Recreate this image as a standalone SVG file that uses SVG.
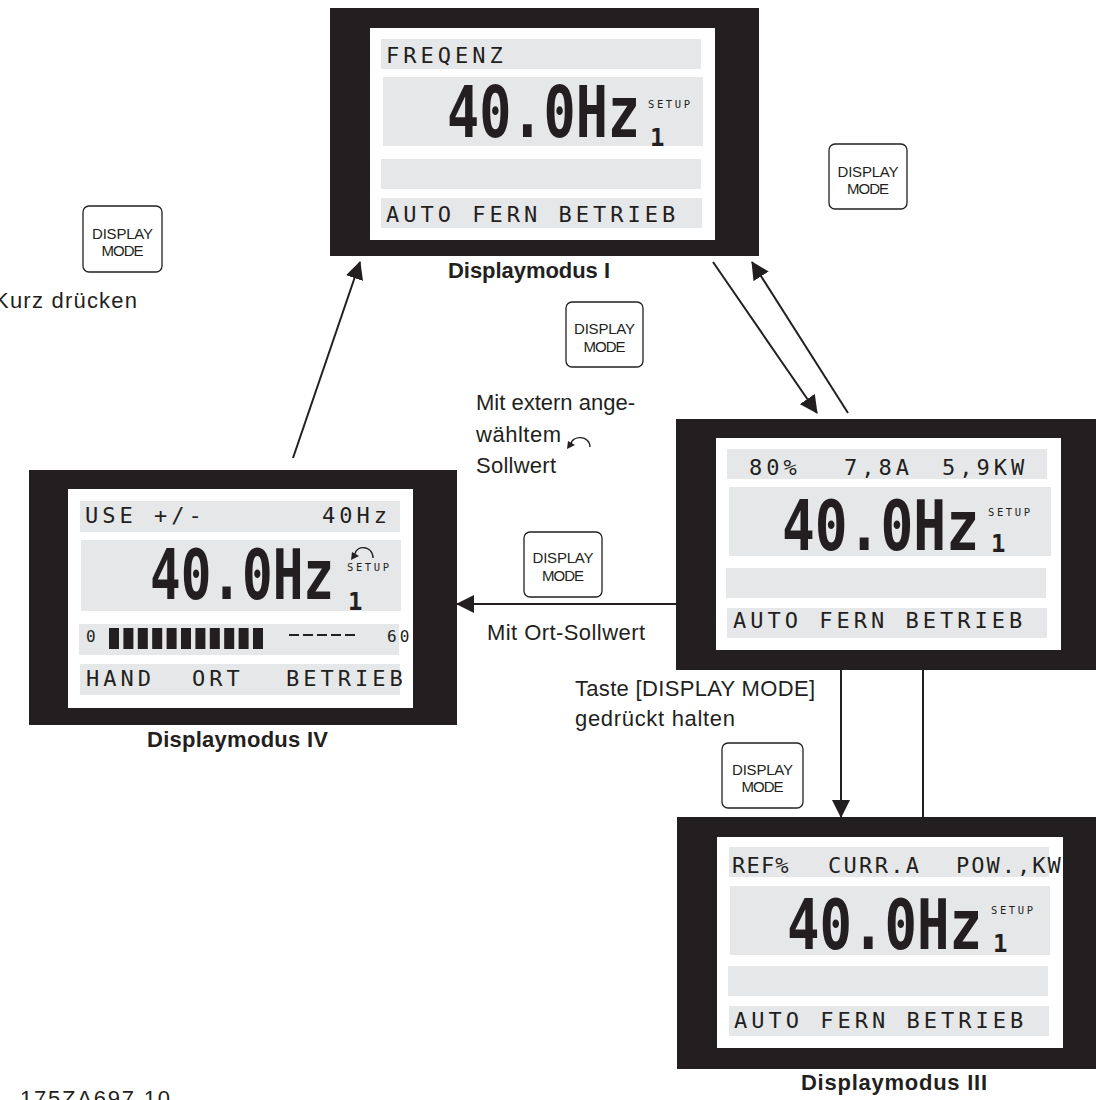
<svg xmlns="http://www.w3.org/2000/svg" width="1096" height="1100" viewBox="0 0 1096 1100">
<defs>
<style>
.frame{fill:#231f20}
.screen{fill:#ffffff}
.row{fill:#e6e7e8}
.lcd{font-family:"DejaVu Sans Mono",monospace;font-size:22px;fill:#231f20;letter-spacing:4px;white-space:pre}
.big{font-family:"DejaVu Sans Mono",monospace;font-weight:bold;font-size:70px;fill:#231f20}
.setup{font-family:"DejaVu Sans Mono",monospace;font-size:10.5px;fill:#231f20;letter-spacing:2.6px}
.one{font-family:"DejaVu Sans Mono",monospace;font-weight:bold;font-size:24px;fill:#231f20}
.small{font-family:"DejaVu Sans Mono",monospace;font-size:16px;fill:#231f20;letter-spacing:3px}
.lbl{font-family:"Liberation Sans",Arial,sans-serif;font-size:22px;fill:#231f20}
.title{font-family:"Liberation Sans",Arial,sans-serif;font-size:22px;font-weight:bold;fill:#231f20}
.btn{fill:#ffffff;stroke:#231f20;stroke-width:1.3}
.btxt{font-family:"Liberation Sans",Arial,sans-serif;font-size:15px;fill:#231f20;text-anchor:middle}
.conn{stroke:#231f20;stroke-width:2;fill:none}
.sym{stroke:#231f20;stroke-width:1.4;fill:none}
</style>
<marker id="arr" markerUnits="userSpaceOnUse" markerWidth="18" markerHeight="18" viewBox="0 0 18 18" refX="17" refY="9" orient="auto">
<path d="M0,0 L18,9 L0,18 z" fill="#231f20"/>
</marker>
</defs>
<rect width="1096" height="1100" fill="#ffffff"/>

<g id="node-mode1">
<rect class="frame" x="330" y="8" width="429" height="248"/>
<rect class="screen" x="370" y="28" width="345" height="212"/>
<rect class="row" x="381" y="39" width="320" height="30"/>
<rect class="row" x="383" y="77" width="320" height="69"/>
<rect class="row" x="381" y="159" width="320" height="30"/>
<rect class="row" x="381" y="198" width="321" height="30"/>
<text class="lcd" x="386" y="63">FREQENZ</text>
<text class="big" x="447" y="137" style="font-size:71px" textLength="193" lengthAdjust="spacingAndGlyphs">40.0Hz</text>
<text class="setup" x="648" y="108">SETUP</text>
<text class="one" x="650" y="146">1</text>
<text class="lcd" x="386" y="222">AUTO FERN BETRIEB</text>
<text class="title" x="448" y="278" textLength="162">Displaymodus I</text>
</g>

<g id="node-mode2">
<rect class="frame" x="676" y="419" width="430" height="251"/>
<rect class="screen" x="716" y="438" width="345" height="212"/>
<rect class="row" x="727" y="449" width="320" height="30"/>
<rect class="row" x="729" y="487" width="322" height="69"/>
<rect class="row" x="726" y="568" width="320" height="30"/>
<rect class="row" x="727" y="608" width="320" height="30"/>
<text class="lcd" x="749" y="475">80%</text>
<text class="lcd" x="844" y="475">7,8A</text>
<text class="lcd" x="942" y="475">5,9KW</text>
<text class="big" x="782" y="550" textLength="197" lengthAdjust="spacingAndGlyphs">40.0Hz</text>
<text class="setup" x="988" y="516">SETUP</text>
<text class="one" x="991" y="552">1</text>
<text class="lcd" x="733" y="628">AUTO FERN BETRIEB</text>
</g>

<g id="node-mode4">
<rect class="frame" x="29" y="470" width="428" height="255"/>
<rect class="screen" x="68" y="489" width="345" height="219"/>
<rect class="row" x="80" y="501" width="320" height="31"/>
<rect class="row" x="81" y="540" width="320" height="71"/>
<rect class="row" x="79" y="624" width="320" height="31"/>
<rect class="row" x="80" y="664" width="320" height="31"/>
<text class="lcd" x="85" y="523">USE +/-</text>
<text class="lcd" x="322" y="523">40Hz</text>
<text class="big" x="150" y="599" textLength="184" lengthAdjust="spacingAndGlyphs">40.0Hz</text>
<path class="sym" d="M373,558 C373,545 356,545 355,554"/>
<path d="M351,560 L352,552 L359,556 z" fill="#231f20"/>
<text class="setup" x="347" y="571">SETUP</text>
<text class="one" x="348" y="610">1</text>
<text class="small" x="86" y="642">0</text>
<g fill="#231f20">
<rect x="109" y="628" width="10" height="21"/>
<rect x="123.4" y="628" width="10" height="21"/>
<rect x="137.8" y="628" width="10" height="21"/>
<rect x="152.2" y="628" width="10" height="21"/>
<rect x="166.6" y="628" width="10" height="21"/>
<rect x="181" y="628" width="10" height="21"/>
<rect x="195.4" y="628" width="10" height="21"/>
<rect x="209.8" y="628" width="10" height="21"/>
<rect x="224.2" y="628" width="10" height="21"/>
<rect x="238.6" y="628" width="10" height="21"/>
<rect x="253" y="628" width="10" height="21"/>
<rect x="289" y="634" width="10" height="2"/>
<rect x="303" y="634" width="10" height="2"/>
<rect x="317" y="634" width="10" height="2"/>
<rect x="331" y="634" width="10" height="2"/>
<rect x="345" y="634" width="10" height="2"/>
</g>
<text class="small" x="387" y="642">60</text>
<text class="lcd" x="86" y="686">HAND</text>
<text class="lcd" x="192" y="686">ORT</text>
<text class="lcd" x="286" y="686">BETRIEB</text>
<text class="title" x="147" y="747" textLength="181">Displaymodus IV</text>
</g>

<g id="node-mode3">
<rect class="frame" x="677" y="817" width="430" height="252"/>
<rect class="screen" x="717" y="837" width="346" height="211"/>
<rect class="row" x="729" y="847" width="320" height="30"/>
<rect class="row" x="730" y="886" width="320" height="69"/>
<rect class="row" x="728" y="966" width="320" height="30"/>
<rect class="row" x="729" y="1006" width="320" height="30"/>
<text class="lcd" x="732" y="873" style="letter-spacing:1.2px">REF%</text>
<text class="lcd" x="828" y="873" style="letter-spacing:2.3px">CURR.A</text>
<text class="lcd" x="956" y="873" style="letter-spacing:2px">POW.,KW</text>
<text class="big" x="787" y="949" textLength="195" lengthAdjust="spacingAndGlyphs">40.0Hz</text>
<text class="setup" x="991" y="914">SETUP</text>
<text class="one" x="993" y="952">1</text>
<text class="lcd" x="734" y="1028">AUTO FERN BETRIEB</text>
<text class="title" x="801" y="1090" textLength="186">Displaymodus III</text>
</g>

<g id="btn-left">
<rect class="btn" x="83" y="206" width="79" height="66" rx="6"/>
<text class="btxt" x="122.5" y="239" textLength="61">DISPLAY</text>
<text class="btxt" x="122.5" y="256" textLength="42">MODE</text>
</g>
<g id="btn-topright">
<rect class="btn" x="829" y="144" width="78" height="65" rx="6"/>
<text class="btxt" x="868" y="177" textLength="61">DISPLAY</text>
<text class="btxt" x="868" y="194" textLength="42">MODE</text>
</g>
<g id="btn-mid">
<rect class="btn" x="566" y="302" width="77" height="65" rx="6"/>
<text class="btxt" x="604.5" y="334" textLength="61">DISPLAY</text>
<text class="btxt" x="604.5" y="352" textLength="42">MODE</text>
</g>
<g id="btn-ort">
<rect class="btn" x="524" y="532" width="78" height="65" rx="6"/>
<text class="btxt" x="563" y="563" textLength="61">DISPLAY</text>
<text class="btxt" x="563" y="581" textLength="42">MODE</text>
</g>
<g id="btn-hold">
<rect class="btn" x="722" y="743" width="81" height="65" rx="6"/>
<text class="btxt" x="762.5" y="775" textLength="61">DISPLAY</text>
<text class="btxt" x="762.5" y="792" textLength="42">MODE</text>
</g>

<g id="labels">
<text class="lbl" x="-6" y="308" textLength="143">Kurz drücken</text>
<text class="lbl" x="476" y="410" textLength="159">Mit extern ange-</text>
<text class="lbl" x="476" y="442" textLength="85">wähltem</text>
<path class="sym" d="M590,447 C590,435 572,435 571,444"/>
<path d="M567,449 L568,441 L575,445 z" fill="#231f20"/>
<text class="lbl" x="476" y="473" textLength="80">Sollwert</text>
<text class="lbl" x="487" y="640" textLength="158">Mit Ort-Sollwert</text>
<text class="lbl" x="575" y="696" textLength="240">Taste [DISPLAY MODE]</text>
<text class="lbl" x="575" y="726" textLength="160">gedrückt halten</text>
<text class="lbl" x="20" y="1106" textLength="150">175ZA697.10</text>
</g>

<g id="connectors">
<line class="conn" x1="293" y1="458" x2="360" y2="262" marker-end="url(#arr)"/>
<line class="conn" x1="713" y1="262" x2="817" y2="413" marker-end="url(#arr)"/>
<line class="conn" x1="848" y1="413" x2="752" y2="262" marker-end="url(#arr)"/>
<line class="conn" x1="676" y1="604" x2="457" y2="604" marker-end="url(#arr)"/>
<line class="conn" x1="841" y1="670" x2="841" y2="817" marker-end="url(#arr)"/>
<line class="conn" x1="923" y1="670" x2="923" y2="817"/>
</g>
</svg>
